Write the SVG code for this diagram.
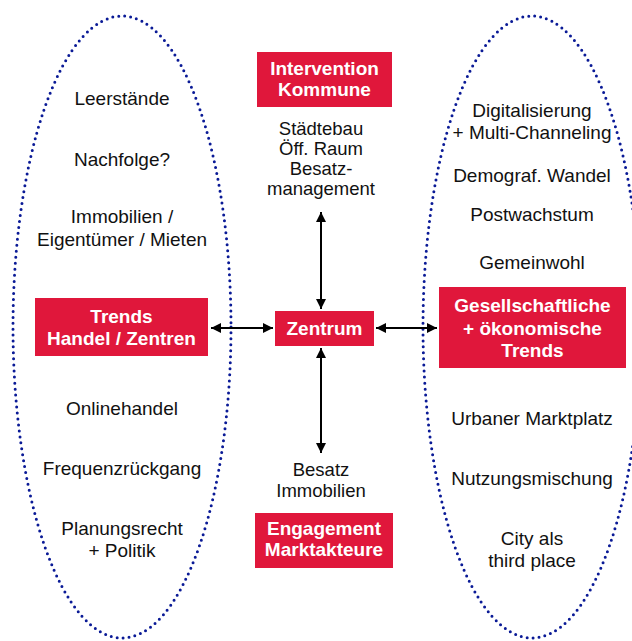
<svg xmlns="http://www.w3.org/2000/svg" width="632" height="641" viewBox="0 0 632 641">
<defs>
<marker id="ah" viewBox="0 0 10 10" refX="10" refY="5" markerWidth="10" markerHeight="10" markerUnits="userSpaceOnUse" orient="auto-start-reverse">
<path d="M0,0 L10,5 L0,10 z" fill="#000"/>
</marker>
<style>
.ell{fill:none;stroke:#0a1a96;stroke-width:3;stroke-linecap:round;stroke-dasharray:0 6}
.box{fill:#e0173b}
.bt{font-family:"Liberation Sans",Arial,sans-serif;font-weight:bold;font-size:19px;fill:#fff;text-anchor:middle}
.t{font-family:"Liberation Sans",Arial,sans-serif;font-size:19px;fill:#111;text-anchor:middle}
.tc{font-family:"Liberation Sans",Arial,sans-serif;font-size:18.5px;fill:#111;text-anchor:middle}
.c{stroke:#000;stroke-width:2;fill:none;marker-start:url(#ah);marker-end:url(#ah)}
</style>
</defs>
<rect width="632" height="641" fill="#fff"/>
<g id="ellipse-left"><ellipse class="ell" cx="122" cy="327" rx="109" ry="311"/></g>
<g id="ellipse-right"><ellipse class="ell" cx="532" cy="327" rx="109" ry="311"/></g>

<g id="connectors">
<line class="c" x1="321" y1="212" x2="321" y2="309"/>
<line class="c" x1="321" y1="348" x2="321" y2="453"/>
<line class="c" x1="211" y1="328" x2="273" y2="328"/>
<line class="c" x1="376" y1="328" x2="437" y2="328"/>
</g>

<g id="intervention">
<rect class="box" x="257" y="52" width="135" height="55"/>
<text class="bt" x="324.5" y="75">Intervention</text>
<text class="bt" x="324.5" y="96">Kommune</text>
</g>
<g id="intervention-text">
<text class="tc" x="321" y="135">Städtebau</text>
<text class="tc" x="321" y="155">Öff. Raum</text>
<text class="tc" x="321" y="175">Besatz-</text>
<text class="tc" x="321" y="195">management</text>
</g>

<g id="zentrum">
<rect class="box" x="275" y="311" width="99" height="35"/>
<text class="bt" x="324.5" y="335">Zentrum</text>
</g>

<g id="trends-handel">
<rect class="box" x="35" y="298" width="173" height="58"/>
<text class="bt" x="121.5" y="323">Trends</text>
<text class="bt" x="121.5" y="345">Handel / Zentren</text>
</g>

<g id="gesellschaftliche">
<rect class="box" x="439" y="287" width="187" height="81"/>
<text class="bt" x="532.5" y="312">Gesellschaftliche</text>
<text class="bt" x="532.5" y="335">+ ökonomische</text>
<text class="bt" x="532.5" y="357">Trends</text>
</g>

<g id="engagement-text">
<text class="tc" x="321" y="476">Besatz</text>
<text class="tc" x="321" y="497">Immobilien</text>
</g>
<g id="engagement">
<rect class="box" x="255" y="513" width="138" height="55"/>
<text class="bt" x="324" y="535">Engagement</text>
<text class="bt" x="324" y="556">Marktakteure</text>
</g>

<g id="left-items">
<text class="t" x="122" y="105">Leerstände</text>
<text class="t" x="122" y="166">Nachfolge?</text>
<text class="t" x="122" y="223">Immobilien /</text>
<text class="t" x="122" y="246">Eigentümer / Mieten</text>
<text class="t" x="122" y="415">Onlinehandel</text>
<text class="t" x="122" y="475">Frequenzrückgang</text>
<text class="t" x="122" y="535">Planungsrecht</text>
<text class="t" x="122" y="557">+ Politik</text>
</g>

<g id="right-items">
<text class="t" x="532" y="117">Digitalisierung</text>
<text class="t" x="532" y="139">+ Multi-Channeling</text>
<text class="t" x="532" y="182">Demograf. Wandel</text>
<text class="t" x="532" y="221">Postwachstum</text>
<text class="t" x="532" y="269">Gemeinwohl</text>
<text class="t" x="532" y="425">Urbaner Marktplatz</text>
<text class="t" x="532" y="485">Nutzungsmischung</text>
<text class="t" x="532" y="545">City als</text>
<text class="t" x="532" y="567">third place</text>
</g>
</svg>
